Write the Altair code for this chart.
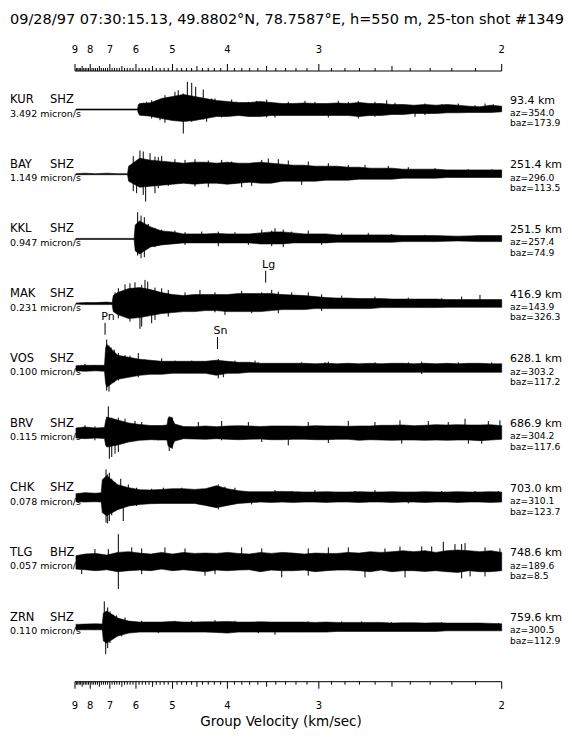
import altair as alt
import pandas as pd

# ---------------- station annotations ----------------
STATIONS = ["KUR", "BAY", "KKL", "MAK", "VOS", "BRV", "CHK", "TLG", "ZRN"]
CHANNELS = ["SHZ", "SHZ", "SHZ", "SHZ", "SHZ", "SHZ", "SHZ", "BHZ", "SHZ"]
SCALES = ["3.492 micron/s", "1.149 micron/s", "0.947 micron/s", "0.231 micron/s",
          "0.100 micron/s", "0.115 micron/s", "0.078 micron/s", "0.057 micron/s",
          "0.110 micron/s"]
DISTANCES = ["93.4 km", "251.4 km", "251.5 km", "416.9 km", "628.1 km",
             "686.9 km", "703.0 km", "748.6 km", "759.6 km"]
AZIMUTHS = ["az=354.0", "az=296.0", "az=257.4", "az=143.9", "az=303.2",
            "az=304.2", "az=310.1", "az=189.6", "az=300.5"]
BACKAZIMUTHS = ["baz=173.9", "baz=113.5", "baz=74.9", "baz=326.3", "baz=117.2",
                "baz=117.6", "baz=123.7", "baz=8.5", "baz=112.9"]

TITLE = "09/28/97 07:30:15.13, 49.8802\u00b0N, 78.7587\u00b0E, h=550 m, 25-ton shot #1349"
AXIS_TITLE = "Group Velocity (km/sec)"
AXIS_LABELS = [9, 8, 7, 6, 5, 4, 3, 2]

# phase picks: name, group velocity (km/s), station
PHASE_NAMES = ["Pn", "Sn", "Lg"]
PHASE_VEL = [7.22, 4.15, 3.51]
PHASE_STATION = ["VOS", "VOS", "MAK"]

# ---------------- trace envelopes ----------------
# (slowness s/km, amplitude above, amplitude below) in display units
KUR_ENV = [(0.112, .5, .5), (0.13, .5, .5), (0.15, .5, .5), (0.168, .5, .5),
           (0.169, 5, 4), (0.17, 6, 5.7), (0.18, 6.7, 6.7), (0.19, 11, 9), (0.20, 13, 11),
           (0.21, 15, 12), (0.22, 13, 11), (0.23, 11, 9), (0.24, 9, 7), (0.25, 8, 7),
           (0.26, 7, 6), (0.27, 7, 7), (0.28, 8, 7), (0.29, 7, 6), (0.30, 6, 6), (0.31, 6, 6),
           (0.32, 6.5, 6), (0.33, 6, 6), (0.34, 6, 6), (0.35, 6.5, 6), (0.36, 6, 6),
           (0.37, 7, 7), (0.38, 6, 6), (0.39, 6, 6), (0.40, 5, 5), (0.41, 5, 5),
           (0.42, 4.3, 4), (0.43, 5, 4), (0.44, 4.3, 4), (0.45, 5, 3.3), (0.46, 4.3, 3.3),
           (0.47, 3.3, 3), (0.48, 2.7, 3), (0.49, 4.3, 3), (0.50, 3.3, 2.3)]
BAY_ENV = [(0.112, .5, .5), (0.12, 1, .5), (0.13, .5, .5), (0.14, 1, .5), (0.15, .5, .5),
           (0.159, .5, .5), (0.160, 8, 7), (0.17, 16, 13), (0.18, 14, 12), (0.19, 13, 11),
           (0.20, 12, 10), (0.21, 11, 9), (0.22, 12, 10), (0.23, 12, 9), (0.24, 11, 9),
           (0.25, 12, 10), (0.26, 11, 9), (0.27, 11, 8), (0.28, 12, 9), (0.29, 11, 9),
           (0.30, 10, 7), (0.31, 9, 7), (0.32, 9, 7), (0.33, 8, 7), (0.34, 8, 6),
           (0.35, 8, 6), (0.36, 7, 6), (0.37, 7, 5), (0.38, 6, 5), (0.39, 6, 5), (0.40, 6, 5),
           (0.41, 5, 4), (0.42, 5, 4), (0.43, 5, 4), (0.44, 5, 4), (0.45, 4.3, 3.3),
           (0.46, 4.3, 3.3), (0.47, 4.3, 3.3), (0.48, 4.3, 3.3), (0.49, 4.3, 3.3), (0.50, 4.3, 3.3)]
KKL_ENV = [(0.112, .5, .5), (0.14, .5, .5), (0.165, .5, .5), (0.166, 14, 12), (0.17, 18, 15),
           (0.18, 12, 8), (0.19, 8, 6), (0.20, 7, 5), (0.21, 5, 4), (0.22, 5, 4), (0.23, 5, 4),
           (0.24, 5.5, 4), (0.25, 5, 4), (0.26, 5, 4), (0.27, 5, 4), (0.28, 6, 5), (0.29, 7, 5),
           (0.30, 7, 5), (0.31, 6, 4), (0.32, 5, 4), (0.33, 5, 4), (0.34, 5, 4), (0.35, 4, 3.3),
           (0.36, 4, 3.3), (0.37, 4, 3.3), (0.38, 4, 3.3), (0.39, 4, 3.3), (0.40, 4, 3.3),
           (0.41, 3.3, 2.7), (0.42, 3.3, 2.7), (0.43, 3.3, 2.7), (0.44, 3.3, 2.7), (0.45, 3, 2.3),
           (0.46, 2.7, 2), (0.47, 3, 2.3), (0.48, 3.3, 2.7), (0.49, 3.3, 2.7), (0.50, 3.3, 2.7)]
MAK_ENV = [(0.112, .5, .5), (0.12, 1, 1), (0.13, 1, 1), (0.14, 1.5, 1), (0.145, 1, 1),
           (0.146, 8, 8), (0.15, 11, 11), (0.16, 15, 15), (0.17, 16, 14), (0.18, 14, 12),
           (0.19, 11, 10), (0.20, 9, 9), (0.21, 8, 8), (0.22, 9, 8), (0.23, 9, 7), (0.24, 9, 7),
           (0.25, 9, 8), (0.26, 10, 8), (0.27, 10, 8), (0.28, 10, 8), (0.29, 10, 7), (0.30, 9, 6),
           (0.31, 8.5, 6), (0.32, 8, 6), (0.33, 7, 5), (0.34, 6, 5), (0.35, 5.5, 5), (0.36, 5.5, 5),
           (0.37, 5, 5), (0.38, 5, 5), (0.39, 5, 4), (0.40, 4.5, 4), (0.41, 4.5, 4), (0.42, 4.5, 4),
           (0.43, 4.5, 4), (0.44, 4.5, 4), (0.45, 4, 3.7), (0.46, 4, 3.7), (0.47, 4, 3.7),
           (0.48, 4, 3.7), (0.49, 4, 3.7), (0.50, 4, 3.7)]
VOS_ENV = [(0.112, 2.5, 2.5), (0.12, 3, 3), (0.13, 3, 2.5), (0.138, 3, 3), (0.139, 20, 15),
           (0.14, 24, 19), (0.15, 13, 11), (0.16, 11, 9), (0.17, 9, 7), (0.18, 8, 6), (0.19, 7, 6),
           (0.20, 7, 5), (0.21, 7, 5), (0.22, 7, 5), (0.23, 7, 5), (0.24, 8, 7), (0.25, 7, 5),
           (0.26, 6, 5), (0.27, 6, 4), (0.28, 5, 4), (0.29, 5, 4), (0.30, 5, 4), (0.31, 5, 4),
           (0.32, 5, 4), (0.33, 4.5, 4), (0.34, 5, 4), (0.35, 4.5, 4), (0.36, 5, 4), (0.37, 4.5, 4),
           (0.38, 5, 4), (0.39, 4.5, 4), (0.40, 5, 4), (0.41, 5, 4), (0.42, 4.5, 4), (0.43, 5, 4),
           (0.44, 4.5, 4), (0.45, 5, 4), (0.46, 4.5, 4), (0.47, 5, 4), (0.48, 5, 4), (0.49, 4.5, 4),
           (0.50, 4.5, 4)]
BRV_ENV = [(0.112, 5, 5), (0.12, 6, 5.7), (0.13, 5, 5), (0.138, 5.5, 5.5), (0.139, 12, 12),
           (0.14, 16, 14), (0.15, 13, 12), (0.16, 10, 9), (0.17, 8.5, 7.3), (0.18, 7.5, 6.7),
           (0.19, 7.5, 7), (0.195, 8, 7), (0.196, 15, 13), (0.199, 16, 15), (0.202, 9, 8),
           (0.21, 6.5, 5.7), (0.22, 6.3, 6), (0.23, 7, 6.3), (0.24, 6.3, 5.7), (0.25, 7, 6.3),
           (0.26, 7.3, 6.7), (0.27, 7, 6.3), (0.28, 6.5, 6), (0.29, 7, 6.7), (0.30, 7, 6.7),
           (0.31, 7, 6.3), (0.32, 6.7, 6.3), (0.33, 7.3, 6.7), (0.34, 7, 6.7), (0.35, 7, 6.3),
           (0.36, 6.7, 6.3), (0.37, 7, 7.3), (0.38, 7, 6.7), (0.39, 7.7, 7), (0.40, 7.7, 7.3),
           (0.41, 8, 7), (0.42, 7.3, 7), (0.43, 7.7, 7.3), (0.44, 8.3, 7), (0.45, 8, 7.3),
           (0.46, 8.3, 7), (0.47, 8, 7), (0.48, 8, 7.7), (0.49, 8.3, 7), (0.50, 7.3, 6.3)]
CHK_ENV = [(0.112, 4, 4), (0.12, 5, 4.3), (0.13, 4.5, 4), (0.135, 5, 4.3), (0.136, 18, 15),
           (0.14, 22, 18), (0.15, 13, 12), (0.16, 10, 8.3), (0.17, 8, 6.7), (0.18, 7.7, 6),
           (0.19, 8.3, 5.7), (0.20, 9, 5.7), (0.21, 9, 5.7), (0.22, 8.3, 5.7), (0.23, 9, 7.7),
           (0.24, 12, 10), (0.25, 9, 7.7), (0.26, 7, 5.7), (0.27, 6, 5), (0.28, 6, 4.3),
           (0.29, 6, 4.7), (0.30, 6.3, 4.3), (0.31, 6, 4.7), (0.32, 5.7, 4.3), (0.33, 5.7, 4.3),
           (0.34, 6, 4.7), (0.35, 5.7, 4.3), (0.36, 5.7, 4.3), (0.37, 6, 4.7), (0.38, 5.7, 4.3),
           (0.39, 5.7, 4.3), (0.40, 6, 4.7), (0.41, 5.7, 4.3), (0.42, 5.7, 4.3), (0.43, 6, 4.7),
           (0.44, 5.7, 4.3), (0.45, 5.7, 4.3), (0.46, 6, 4.7), (0.47, 5.7, 4.3), (0.48, 5.7, 4.3),
           (0.49, 6, 4.7), (0.50, 5.7, 4.3)]
TLG_ENV = [(0.112, 6.7, 6.7), (0.12, 8.3, 7.3), (0.13, 9, 8.3), (0.14, 7.3, 7.3), (0.15, 10, 9.3),
           (0.16, 10.7, 8.3), (0.17, 9.3, 7.7), (0.18, 8.3, 8.3), (0.19, 10, 6.7), (0.20, 8.3, 8.3),
           (0.21, 10, 7.3), (0.22, 9, 8.3), (0.23, 9.3, 9.3), (0.24, 9, 7.7), (0.25, 10, 8.3),
           (0.26, 9, 7.7), (0.27, 8.3, 7.3), (0.28, 10, 9.3), (0.29, 9, 7.7), (0.30, 10, 8.3),
           (0.31, 9.3, 8.3), (0.32, 8.3, 7.7), (0.33, 9.3, 9.3), (0.34, 9, 8.3), (0.35, 9, 7.7),
           (0.36, 10, 7.7), (0.37, 9.3, 8.3), (0.38, 10.7, 9.3), (0.39, 10, 7.7), (0.40, 10.7, 9.3),
           (0.41, 11.7, 8.3), (0.42, 10.7, 8.3), (0.43, 11.7, 9), (0.44, 10, 8.3), (0.45, 11.7, 9.3),
           (0.46, 12.3, 10), (0.47, 11.7, 8.3), (0.48, 10.7, 9.3), (0.49, 11.7, 9.3), (0.50, 10, 8.3)]
ZRN_ENV = [(0.112, 2.7, 2.7), (0.12, 3, 2.7), (0.13, 3.3, 2.7), (0.136, 3, 2.7), (0.137, 14, 14),
           (0.14, 16, 16), (0.15, 9, 9), (0.16, 6, 6), (0.17, 5, 5), (0.18, 5, 5), (0.19, 5, 5),
           (0.20, 5.7, 5), (0.21, 5, 5), (0.22, 5, 5), (0.23, 5.3, 5), (0.24, 5.3, 5.3),
           (0.25, 5.7, 6), (0.26, 5, 5), (0.27, 5, 5), (0.28, 5.3, 5), (0.29, 5, 5), (0.30, 5, 5),
           (0.31, 5, 5), (0.32, 5, 5), (0.33, 4.7, 5), (0.34, 5, 5), (0.35, 4.7, 4.3),
           (0.36, 4.7, 4.3), (0.37, 4.7, 4.3), (0.38, 4.7, 4.3), (0.39, 4.7, 4.3), (0.40, 4, 4.3),
           (0.41, 4.3, 4.3), (0.42, 4.3, 4.3), (0.43, 4, 4.3), (0.44, 4.3, 4.3), (0.45, 4, 3.7),
           (0.46, 4, 3.7), (0.47, 4, 3.7), (0.48, 4, 3.7), (0.49, 3.7, 3.7), (0.50, 3.3, 3.7)]

# individual swings standing out of the band (slowness, up, down)
KUR_SPK = [(0.1733, 6.7, 0), (0.1856, 8.7, 7.3), (0.1931, 14.3, 13.3), (0.2022, 17.7, 10),
           (0.2052, 19.3, 0), (0.2098, 16, 24), (0.2135, 27.7, 10.7), (0.2175, 26.7, 12.3),
           (0.2211, 22.7, 0), (0.2280, 20, 10), (0.2387, 11, 0), (0.2539, 10, 0), (0.2858, 10, 8),
           (0.3207, 8.7, 0), (0.3693, 8.7, 9), (0.3952, 9.3, 0), (0.4210, 0, 7.3), (0.4604, 6, 0),
           (0.4923, 5.3, 0), (0.1764, 7.7, 0), (0.1810, 9.3, 9), (0.1886, 0, 10.7), (0.1961, 10, 0),
           (0.2311, 0, 12.3), (0.2357, 11, 0), (0.2448, 8.7, 8), (0.2585, 7.7, 0), (0.2691, 7.7, 7.3),
           (0.2767, 8.7, 0), (0.2934, 0, 8), (0.3055, 7.7, 0), (0.3298, 7.7, 0), (0.3420, 0, 8),
           (0.3511, 8.7, 0), (0.3602, 7.7, 0), (0.3845, 7.7, 7.3), (0.4028, 6.7, 0),
           (0.4301, 6, 5.7), (0.4453, 5.3, 0), (0.4757, 4.3, 0), (0.4848, 6, 0)]
BAY_SPK = [(0.1642, 18, 17), (0.1703, 23.7, 0), (0.1733, 22.7, 20.7), (0.1755, 0, 27.3),
           (0.1795, 21, 0), (0.1840, 17.7, 19), (0.1901, 18.3, 0), (0.2022, 15, 0),
           (0.2205, 15, 12.3), (0.2448, 14.3, 0), (0.2630, 0, 13), (0.2873, 15.7, 0),
           (0.2964, 15, 0), (0.3237, 12.7, 0), (0.3754, 9.3, 0), (0.4149, 7, 0),
           (0.1673, 0, 19), (0.1870, 17, 14), (0.1961, 0, 11.7), (0.2114, 14.3, 0),
           (0.2326, 13.7, 13), (0.2539, 12.7, 0), (0.2721, 0, 11.7), (0.2813, 14.3, 0),
           (0.3055, 13.7, 0), (0.3177, 0, 10.7), (0.3420, 11, 0), (0.3602, 9.3, 0),
           (0.3967, 8.3, 0), (0.4392, 6, 0), (0.4696, 5, 0), (0.4909, 5, 0)]
KKL_SPK = [(0.1682, 26.7, 16.7), (0.1713, 23.3, 19.3), (0.1743, 21.7, 18.3), (0.1779, 15, 0),
           (0.1840, 10.7, 8.3), (0.2022, 8.3, 0), (0.2417, 7.3, 7.3), (0.2934, 10.7, 0),
           (0.3009, 9.3, 8.3), (0.3237, 8.3, 0), (0.3784, 6, 0),
           (0.1901, 9.3, 0), (0.2114, 6.7, 6), (0.2266, 7.3, 0), (0.2569, 6.7, 0), (0.2691, 0, 6),
           (0.2813, 9.3, 0), (0.2904, 8.3, 7.3), (0.3086, 7.3, 0), (0.3359, 0, 6), (0.3542, 6, 0),
           (0.3997, 5, 0), (0.4301, 4, 0), (0.4757, 3.3, 0)]
MAK_SPK = [(0.1506, 15.3, 14.7), (0.1567, 19.3, 0), (0.1612, 20.3, 18), (0.1658, 21.3, 0),
           (0.1703, 0, 25.3), (0.1719, 18.7, 23), (0.1749, 23.7, 0), (0.1774, 22, 0),
           (0.1840, 16, 16.3), (0.1901, 15.3, 0), (0.2250, 13.7, 0), (0.2478, 0, 11.3),
           (0.2813, 11.3, 0), (0.2964, 12, 9.7), (0.3237, 11.3, 0), (0.4802, 8.7, 0),
           (0.1476, 11.3, 0), (0.1810, 0, 19.7), (0.1961, 13.7, 13), (0.2114, 11.3, 0),
           (0.2387, 11.3, 8.7), (0.2630, 12.7, 0), (0.2721, 0, 9.7), (0.2904, 13.7, 0),
           (0.3086, 11.3, 0), (0.3359, 9.3, 7.3), (0.3542, 8, 0), (0.3845, 7, 0),
           (0.4149, 6, 0), (0.4453, 5.3, 0), (0.4635, 7, 0)]
VOS_SPK = [(0.1400, 28.7, 22.3), (0.1421, 22.7, 23.3), (0.1439, 21, 0), (0.1469, 18.7, 14),
           (0.1506, 15.3, 12.3), (0.1567, 13.3, 0), (0.1688, 15.3, 9), (0.1901, 10, 0),
           (0.2417, 9.3, 10), (0.2752, 7.7, 0), (0.3390, 6, 0), (0.4271, 6.7, 5.7),
           (0.1202, 4.3, 0), (0.1293, 3.3, 0), (0.1612, 12.7, 0), (0.1749, 8.7, 0), (0.1795, 0, 5.7),
           (0.2022, 7.7, 0), (0.2175, 7.7, 0), (0.2326, 6.7, 0), (0.2463, 0, 9), (0.2569, 7.7, 0),
           (0.2782, 6, 0), (0.3177, 6, 0), (0.3420, 6.7, 0), (0.3845, 6, 0), (0.4149, 6, 0),
           (0.4604, 6, 0), (0.4909, 6, 4)]
BRV_SPK = [(0.1202, 7.7, 0), (0.1415, 26.7, 0), (0.1424, 0, 25.7), (0.1446, 15.3, 24),
           (0.1476, 12.7, 20.7), (0.1506, 15.3, 19), (0.1567, 14.3, 0), (0.1658, 12, 0),
           (0.1970, 16.7, 18), (0.1998, 15.3, 15.7), (0.2448, 12, 7.3), (0.3055, 0, 12.3),
           (0.4073, 12.7, 0), (0.4666, 14.3, 0), (0.4696, 0, 10.7), (0.4984, 12.7, 0),
           (0.1293, 6.7, 7.3), (0.1719, 11, 6.7), (0.1870, 0, 7.3), (0.2235, 11, 0), (0.2691, 11, 0),
           (0.2813, 0, 9), (0.3237, 11, 0), (0.3420, 0, 10), (0.3602, 12, 0), (0.3845, 11, 0),
           (0.4089, 0, 10.7), (0.4331, 12, 0), (0.4513, 11, 0), (0.4818, 0, 10.7), (0.4878, 12, 0)]
CHK_SPK = [(0.1394, 28.3, 25), (0.1409, 23.3, 25.7), (0.1424, 25, 23.3), (0.1446, 19, 17.7),
           (0.1476, 15, 11.7), (0.1528, 19, 0), (0.1551, 0, 23.3), (0.1597, 13.3, 0),
           (0.1916, 10, 0), (0.2417, 13.3, 11.7), (0.2478, 11, 0), (0.2934, 7.7, 0),
           (0.3663, 6.7, 0), (0.4969, 6.7, 0),
           (0.1202, 5, 0), (0.1293, 0, 4.3), (0.1673, 10, 8.3), (0.1810, 9, 0), (0.2083, 10, 0),
           (0.2266, 9, 0), (0.2569, 10, 0), (0.2721, 0, 6.7), (0.3086, 6.7, 0), (0.3298, 7.7, 0),
           (0.3845, 7.7, 0), (0.4149, 0, 5.7), (0.4453, 6.7, 0), (0.4757, 6.7, 0)]
TLG_SPK = [(0.1172, 0, 11.7), (0.1293, 13.3, 0), (0.1506, 28.3, 26.7), (0.1628, 15, 0),
           (0.1931, 15, 0), (0.2296, 0, 13.3), (0.2630, 15, 0), (0.2995, 0, 15), (0.3420, 15, 0),
           (0.3754, 0, 15), (0.4073, 16, 0), (0.4271, 16, 0), (0.4468, 20.7, 0),
           (0.4635, 18.3, 16), (0.4666, 19.3, 0), (0.4712, 0, 14), (0.4984, 14, 0),
           (0.1415, 13.3, 0), (0.1719, 14, 11.7), (0.2114, 14, 0), (0.2387, 0, 11.7),
           (0.2813, 14, 0), (0.3237, 14, 13.3), (0.3602, 15, 0), (0.3936, 14, 0),
           (0.4119, 0, 15), (0.4362, 16, 0), (0.4574, 18.3, 0), (0.4848, 15, 14)]
ZRN_SPK = [(0.1378, 25.7, 0), (0.1391, 0, 27), (0.1409, 19.7, 21), (0.1430, 15.7, 16),
           (0.1460, 12.3, 0), (0.1567, 9.7, 0), (0.2022, 6.3, 0), (0.2387, 7, 0),
           (0.2934, 0, 7.7), (0.3724, 5.7, 0), (0.4969, 4, 0),
           (0.1202, 3, 0), (0.1293, 0, 2.7), (0.1491, 11.7, 0), (0.1537, 0, 9.3), (0.1719, 6.3, 0),
           (0.1870, 0, 6), (0.2175, 6.3, 0), (0.2569, 6.3, 0), (0.2782, 0, 6), (0.3237, 5.7, 0),
           (0.3542, 5.7, 0), (0.3997, 5, 0), (0.4453, 5, 0), (0.4757, 4.3, 0)]

ENVELOPES = [KUR_ENV, BAY_ENV, KKL_ENV, MAK_ENV, VOS_ENV, BRV_ENV, CHK_ENV, TLG_ENV, ZRN_ENV]
SPIKES = [KUR_SPK, BAY_SPK, KKL_SPK, MAK_SPK, VOS_SPK, BRV_SPK, CHK_SPK, TLG_SPK, ZRN_SPK]

# ---------------- layout ----------------
ROW_PX = 64.7          # trace spacing in pixels; amplitudes are in pixels
GAIN = 1.0 / ROW_PX
FONT = "DejaVu Sans"
PHASE_TICK_LIFT = [39.5, 25.3, 27.0]
PHASE_TEXT_LIFT = [51.6, 37.6, 38.7]

xs = alt.Scale(domain=[1 / 9, 0.5], range=[67, 493.7], nice=False, zero=False)
ys = alt.Scale(domain=[0, 8], range=[101.5, 619.1], nice=False, zero=False)

env_rows, spk_rows = [], []
for i, st in enumerate(STATIONS):
    for s, up, dn in ENVELOPES[i]:
        env_rows.append({"station": st, "s": s, "top": i - up * GAIN, "bot": i + dn * GAIN})
    for s, up, dn in SPIKES[i]:
        spk_rows.append({"station": st, "s": s, "top": i - up * GAIN, "bot": i + dn * GAIN})
env_df = pd.DataFrame(env_rows)
spk_df = pd.DataFrame(spk_rows)

st_df = pd.DataFrame({"row": list(range(len(STATIONS))), "name": STATIONS, "chan": CHANNELS,
                      "scale": SCALES, "dist": DISTANCES, "az": AZIMUTHS, "baz": BACKAZIMUTHS})

tick_vel = [round(2 + 0.1 * k, 1) for k in range(71)]
tick_df = pd.DataFrame({"v": tick_vel})
tick_df["s"] = 1.0 / tick_df["v"]
tick_df["kind"] = ["major" if abs(v - round(v)) < 1e-6 else ("half" if abs(v * 2 - round(v * 2)) < 1e-6 else "minor")
                   for v in tick_vel]
lab_df = pd.DataFrame({"v": AXIS_LABELS})
lab_df["s"] = 1.0 / lab_df["v"]
lab_df["label"] = lab_df["v"].astype(str)
line_df = pd.DataFrame({"s0": [1 / 9], "s1": [0.5]})

ph_rows = []
for k, nm in enumerate(PHASE_NAMES):
    r = STATIONS.index(PHASE_STATION[k])
    ph_rows.append({"name": nm, "s": 1.0 / PHASE_VEL[k],
                    "t0": r - (PHASE_TICK_LIFT[k] + 6) * GAIN,
                    "t1": r - (PHASE_TICK_LIFT[k] - 6) * GAIN,
                    "ty": r - PHASE_TEXT_LIFT[k] * GAIN})
ph_df = pd.DataFrame(ph_rows)


def X(f):
    return alt.X(f, type="quantitative", scale=xs, axis=None)


def Y(f):
    return alt.Y(f, type="quantitative", scale=ys, axis=None)


layers = []

# station text (left)
base_st = alt.Chart(st_df)
layers.append(base_st.mark_text(align="left", baseline="middle", font=FONT, fontSize=11.5, dy=-9.5)
              .encode(x=alt.value(2), y=Y("row"), text="name:N"))
layers.append(base_st.mark_text(align="left", baseline="middle", font=FONT, fontSize=11.5, dy=-9.5)
              .encode(x=alt.value(42), y=Y("row"), text="chan:N"))
layers.append(base_st.mark_text(align="left", baseline="middle", font=FONT, fontSize=9.5, dy=4)
              .encode(x=alt.value(2), y=Y("row"), text="scale:N"))
# right annotations
layers.append(base_st.mark_text(align="left", baseline="middle", font=FONT, fontSize=11, dy=-9)
              .encode(x=alt.value(502), y=Y("row"), text="dist:N"))
layers.append(base_st.mark_text(align="left", baseline="middle", font=FONT, fontSize=9.2, dy=3.3)
              .encode(x=alt.value(502), y=Y("row"), text="az:N"))
layers.append(base_st.mark_text(align="left", baseline="middle", font=FONT, fontSize=9.2, dy=13.8)
              .encode(x=alt.value(502), y=Y("row"), text="baz:N"))

# traces
layers.append(alt.Chart(env_df).mark_area(color="black", stroke="black", strokeWidth=0.6,
                                          interpolate="linear")
              .encode(x=X("s"), y=Y("top"), y2="bot:Q", detail="station:N"))
layers.append(alt.Chart(spk_df).mark_rule(color="black", strokeWidth=1)
              .encode(x=X("s"), y=Y("top"), y2="bot:Q"))

# phase picks
layers.append(alt.Chart(ph_df).mark_rule(color="black", strokeWidth=1)
              .encode(x=X("s"), y=Y("t0"), y2="t1:Q"))
layers.append(alt.Chart(ph_df).mark_text(align="center", baseline="middle", font=FONT, fontSize=11, dx=3)
              .encode(x=X("s"), y=Y("ty"), text="name:N"))

# velocity axes (top and bottom)
tick_len = {"major": 7, "half": 5, "minor": 3}
for axis_y, sign, lab_y in [(63, -1, 42), (673.7, 1, 697.5)]:
    layers.append(alt.Chart(line_df).mark_rule(color="black", strokeWidth=1)
                  .encode(x=X("s0"), x2="s1:Q", y=alt.value(axis_y)))
    for kind, ln in tick_len.items():
        layers.append(alt.Chart(tick_df).transform_filter(alt.datum.kind == kind)
                      .mark_rule(color="black", strokeWidth=1)
                      .encode(x=X("s"), y=alt.value(axis_y), y2=alt.value(axis_y + sign * ln)))
    layers.append(alt.Chart(lab_df).mark_text(align="center", baseline="middle", font=FONT, fontSize=10)
                  .encode(x=X("s"), y=alt.value(lab_y), text="label:N"))

layers.append(alt.Chart(pd.DataFrame({"t": [AXIS_TITLE]}))
              .mark_text(align="center", baseline="middle", font=FONT, fontSize=13.5)
              .encode(x=alt.value(273), y=alt.value(714), text="t:N"))
layers.append(alt.Chart(pd.DataFrame({"t": [TITLE]}))
              .mark_text(align="center", baseline="middle", font=FONT, fontSize=14.5)
              .encode(x=alt.value(279), y=alt.value(11.7), text="t:N"))

chart = alt.layer(*layers).properties(
    width=556, height=733,
    autosize=alt.AutoSizeParams(type="none"),
    padding=0,
    background="white",
).configure_view(stroke=None)

chart.save("out.html", embed_options={"renderer": "svg", "actions": False})
